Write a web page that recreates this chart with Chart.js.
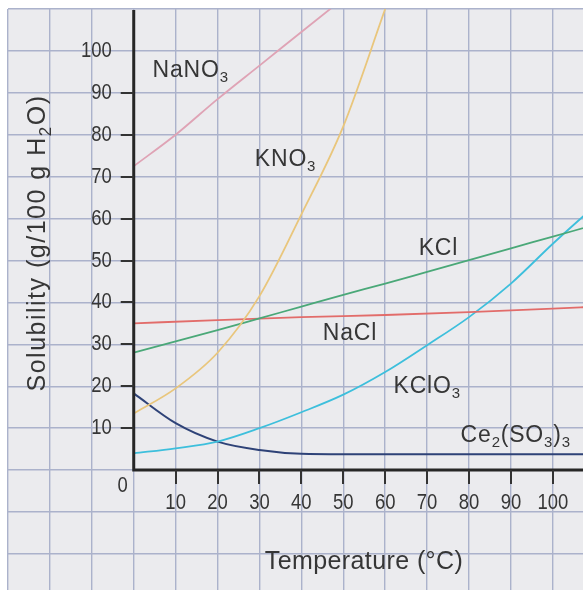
<!DOCTYPE html>
<html>
<head>
<meta charset="utf-8">
<script src="https://cdn.jsdelivr.net/npm/chart.js@4/dist/chart.umd.min.js"></script>
<style>
  html, body { margin: 0; padding: 0; background: #ffffff; }
  #chart { display: block; }
</style>
</head>
<body>
<canvas id="chart" width="583" height="590"></canvas>
<script>
// ---- data (temperature in °C, solubility in g/100 g H2O) ----
const nano3Temps = [0, 10, 20, 30, 40, 50];
const nano3Sol   = [72.5, 80, 88.5, 96.5, 104.5, 112.5];

const kno3Temps = [0, 10, 20, 30, 40, 50, 60];
const kno3Sol   = [13.5, 19.5, 28, 41.5, 61, 82, 110];

const kclTemps = [0, 10, 20, 30, 40, 50, 60, 70, 80, 90, 100, 110];
const kclSol   = [28, 30.7, 33.4, 36.2, 39, 41.8, 44.5, 47.3, 50.1, 52.9, 55.7, 58.5];

const naclTemps = [0, 20, 40, 60, 80, 100, 110];
const naclSol   = [35, 35.8, 36.5, 37, 37.7, 38.5, 39];

const kclo3Temps = [0, 10, 20, 30, 40, 50, 60, 70, 80, 90, 100, 110];
const kclo3Sol   = [4, 5.2, 6.8, 10, 13.8, 18, 23.4, 29.8, 36.5, 44.5, 54, 63];

const ceTemps = [0, 10, 20, 30, 40, 50, 110];
const ceSol   = [18.3, 11.2, 6.8, 4.8, 3.9, 3.8, 3.8];

// tick labels
const xTickLabels = [10, 20, 30, 40, 50, 60, 70, 80, 90, 100];
const yTickLabels = [10, 20, 30, 40, 50, 60, 70, 80, 90, 100];

// ---- styling ----
const FONT = "'Liberation Sans', Arial, Helvetica, sans-serif";
const TEXT_COLOR = '#363636';
const AXIS_COLOR = '#262626';

// curve labels (x, y in data units; '_' marks a subscript character)
const curveLabels = [
    { text: 'NaNO_3',      x: 4.5,  y: 93.8 },
    { text: 'KNO_3',       x: 28.9, y: 72.6 },
    { text: 'KCl',         x: 68,   y: 51.3 },
    { text: 'NaCl',        x: 45.1, y: 31 },
    { text: 'KClO_3',      x: 62,   y: 18.4 },
    { text: 'Ce_2(SO_3)_3', x: 78,  y: 6.7 }
];

function toPoints(xs, ys) {
    return xs.map((x, i) => ({ x: x, y: ys[i] }));
}

function series(label, xs, ys, color, width) {
    return {
        label: label,
        data: toPoints(xs, ys),
        borderColor: color,
        borderWidth: width || 1.8,
        pointRadius: 0,
        fill: false,
        cubicInterpolationMode: 'monotone'
    };
}

/**
 * Split "Ce_2(SO_3)_3" into runs of normal / subscript text
 */
function parseChem(text) {
    const parts = [];
    for (let i = 0; i < text.length; i++) {
        if (text[i] === '_' && i + 1 < text.length) {
            parts.push({ s: text[i + 1], sub: true });
            i++;
        } else {
            const last = parts[parts.length - 1];
            if (last && !last.sub) last.s += text[i];
            else parts.push({ s: text[i], sub: false });
        }
    }
    return parts;
}

function drawChem(ctx, text, x, y, size, align, spacing) {
    const parts = parseChem(text);
    const subSize = Math.round(size * 0.66);
    ctx.letterSpacing = (spacing || 0) + 'px';
    let total = 0;
    parts.forEach(p => {
        ctx.font = (p.sub ? subSize : size) + 'px ' + FONT;
        p.w = ctx.measureText(p.s).width;
        total += p.w;
    });
    let cx = align === 'center' ? x - total / 2 : x;
    ctx.textAlign = 'left';
    ctx.textBaseline = 'alphabetic';
    parts.forEach(p => {
        ctx.font = (p.sub ? subSize : size) + 'px ' + FONT;
        ctx.fillText(p.s, cx, p.sub ? y + size * 0.22 : y);
        cx += p.w;
    });
    ctx.letterSpacing = '0px';
}

function drawNarrow(ctx, text, x, y, align) {
    ctx.save();
    ctx.translate(x, y);
    ctx.scale(0.84, 1);
    ctx.textAlign = align;
    ctx.textBaseline = 'middle';
    ctx.fillText(text, 0, 0);
    ctx.restore();
}

// background, axes, ticks and all the text
const decorPlugin = {
    id: 'decor',
    beforeDraw(chart) {
        const { ctx, chartArea: a } = chart;
        ctx.save();
        ctx.fillStyle = '#ffffff';
        ctx.fillRect(0, 0, chart.width, chart.height);
        ctx.fillStyle = '#ebebee';
        ctx.fillRect(a.left, a.top, a.right - a.left, a.bottom - a.top);
        ctx.restore();
    },
    afterDatasetsDraw(chart) {
        const { ctx, chartArea: a } = chart;
        const xs = chart.scales.x;
        const ys = chart.scales.y;
        const x0 = xs.getPixelForValue(0);
        const y0 = ys.getPixelForValue(0);

        ctx.save();
        // axes
        ctx.strokeStyle = AXIS_COLOR;
        ctx.lineWidth = 3;
        ctx.beginPath();
        ctx.moveTo(x0, a.top + 1);
        ctx.lineTo(x0, y0);
        ctx.lineTo(a.right, y0);
        ctx.stroke();

        // tick marks
        ctx.lineWidth = 2;
        ctx.strokeStyle = '#333333';
        ctx.beginPath();
        yTickLabels.forEach(v => {
            if (v >= 100) return;
            const py = Math.round(ys.getPixelForValue(v));
            ctx.moveTo(x0 - 13, py);
            ctx.lineTo(x0, py);
        });
        xTickLabels.forEach(v => {
            const px = Math.round(xs.getPixelForValue(v));
            ctx.moveTo(px, y0);
            ctx.lineTo(px, y0 + 14);
        });
        ctx.stroke();

        // tick labels
        ctx.fillStyle = TEXT_COLOR;
        ctx.font = '22px ' + FONT;
        yTickLabels.forEach(v => {
            drawNarrow(ctx, String(v), x0 - 22, ys.getPixelForValue(v), 'right');
        });
        xTickLabels.forEach(v => {
            drawNarrow(ctx, String(v), xs.getPixelForValue(v), y0 + 33, 'center');
        });
        drawNarrow(ctx, '0', x0 - 11, y0 + 16, 'center');

        // curve labels
        curveLabels.forEach(l => {
            drawChem(ctx, l.text, xs.getPixelForValue(l.x), ys.getPixelForValue(l.y), 23, 'left', 0.8);
        });

        // axis titles
        drawChem(ctx, 'Temperature (°C)', 364, 569, 25, 'center', 0.4);
        ctx.save();
        ctx.translate(45, 243);
        ctx.rotate(-Math.PI / 2);
        drawChem(ctx, 'Solubility (g/100 g H_2O)', 0, 0, 25, 'center', 1.5);
        ctx.restore();

        ctx.restore();
    }
};

const gridOpts = { color: '#abb2cb', lineWidth: 1.4, drawTicks: false };

new Chart(document.getElementById('chart'), {
    type: 'line',
    data: {
        datasets: [
            series('NaNO3', nano3Temps, nano3Sol, '#dfa3b5'),
            series('KNO3', kno3Temps, kno3Sol, '#e9c67c'),
            series('KCl', kclTemps, kclSol, '#4aa878'),
            series('NaCl', naclTemps, naclSol, '#e26c6a'),
            series('KClO3', kclo3Temps, kclo3Sol, '#3dbfdc'),
            series('Ce2(SO3)3', ceTemps, ceSol, '#2e4277', 2)
        ]
    },
    options: {
        responsive: false,
        animation: false,
        devicePixelRatio: 1,
        layout: { padding: { left: 8, top: 9, right: 0, bottom: 0 } },
        plugins: {
            legend: { display: false },
            tooltip: { enabled: false }
        },
        scales: {
            x: {
                type: 'linear',
                min: -30,
                max: 107.2,
                grid: gridOpts,
                border: { display: false },
                ticks: { stepSize: 10, display: false, includeBounds: false }
            },
            y: {
                type: 'linear',
                min: -28.6,
                max: 110,
                grid: gridOpts,
                border: { display: false },
                ticks: { stepSize: 10, display: false, includeBounds: false }
            }
        }
    },
    plugins: [decorPlugin]
});
</script>
</body>
</html>
